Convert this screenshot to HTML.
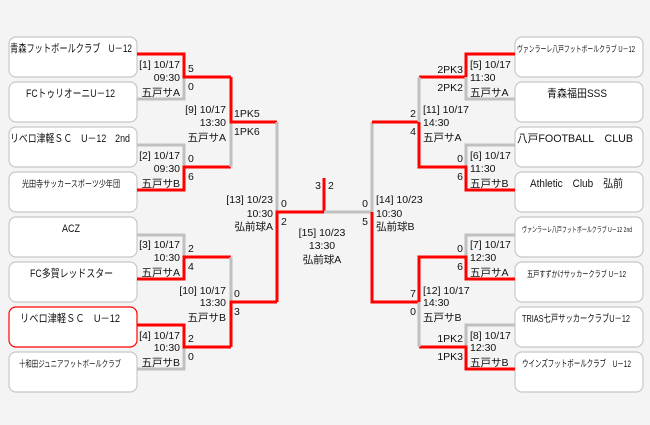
<!DOCTYPE html>
<html><head><meta charset="utf-8"><style>
body{margin:0;background:#f4f4f4;}
svg{display:block;font-family:"Liberation Sans","Noto Sans CJK JP",sans-serif;}
.b{fill:#fff;stroke:#c8c8c8;stroke-width:1.2}
.g{stroke:#c0c0c0;stroke-width:3;fill:none}
.r{stroke:#f00;stroke-width:3;fill:none}
text{font-size:10.5px;fill:#111}
.n{text-anchor:start}
.e{text-anchor:end}
</style></head><body>
<svg width="650" height="425" viewBox="0 0 650 425">
<rect width="650" height="425" fill="#f4f4f4"/>
<g>
<rect class="b" x="9" y="37" width="128" height="40" rx="7"/>
<rect class="b" x="9" y="82" width="128" height="40" rx="7"/>
<rect class="b" x="9" y="127" width="128" height="40" rx="7"/>
<rect class="b" x="9" y="172" width="128" height="40" rx="7"/>
<rect class="b" x="9" y="217" width="128" height="40" rx="7"/>
<rect class="b" x="9" y="262" width="128" height="40" rx="7"/>
<rect class="b" x="9" y="307" width="128" height="40" rx="7" style="stroke:#f00"/>
<rect class="b" x="9" y="352" width="128" height="40" rx="7"/>
<rect class="b" x="515" y="37" width="128" height="40" rx="7"/>
<rect class="b" x="515" y="82" width="128" height="40" rx="7"/>
<rect class="b" x="515" y="127" width="128" height="40" rx="7"/>
<rect class="b" x="515" y="172" width="128" height="40" rx="7"/>
<rect class="b" x="515" y="217" width="128" height="40" rx="7"/>
<rect class="b" x="515" y="262" width="128" height="40" rx="7"/>
<rect class="b" x="515" y="307" width="128" height="40" rx="7"/>
<rect class="b" x="515" y="352" width="128" height="40" rx="7"/>
</g>
<path class="g" d="M137 99H184V77"/>
<path class="r" d="M137 54H184V77H231"/>
<path class="g" d="M137 145H184V167"/>
<path class="r" d="M137 190H184V167H231"/>
<path class="g" d="M231 122V167"/>
<path class="r" d="M231 77V122H277"/>
<path class="g" d="M137 235H184V257"/>
<path class="r" d="M137 279H184V257H231"/>
<path class="g" d="M137 369H184V347"/>
<path class="r" d="M137 325H184V347H231"/>
<path class="g" d="M231 257V302"/>
<path class="r" d="M231 347V302H277"/>
<path class="g" d="M277 122V212"/>
<path class="r" d="M277 302V212H324V178"/>
<path class="g" d="M324 212H372V122"/>
<path class="r" d="M515 54H466V77H419"/>
<path class="g" d="M515 99H466V77"/>
<path class="g" d="M515 145H466V167"/>
<path class="r" d="M515 190H466V167H419V122H372"/>
<path class="g" d="M419 77V122"/>
<path class="g" d="M515 235H466V257"/>
<path class="r" d="M515 279H466V257H419V302H372V212"/>
<path class="g" d="M515 325H466V347"/>
<path class="r" d="M515 369H466V347H419"/>
<path class="g" d="M419 302V347"/>
<g class="n">
<text x="10" y="52" style="font-size:11px" textLength="122" lengthAdjust="spacingAndGlyphs">青森フットボールクラブ　U－12</text>
<text x="26" y="97" style="font-size:11px" textLength="89" lengthAdjust="spacingAndGlyphs">FCトゥリオーニU－12</text>
<text x="10" y="142" style="font-size:11px" textLength="120" lengthAdjust="spacingAndGlyphs">リベロ津軽ＳＣ　U－12　2nd</text>
<text x="22" y="187" style="font-size:9px" textLength="98" lengthAdjust="spacingAndGlyphs">光田寺サッカースポーツ少年団</text>
<text x="62" y="232" style="font-size:11px" textLength="18" lengthAdjust="spacingAndGlyphs">ACZ</text>
<text x="30" y="277" style="font-size:11px" textLength="83" lengthAdjust="spacingAndGlyphs">FC多賀レッドスター</text>
<text x="20" y="322" style="font-size:11px" textLength="100" lengthAdjust="spacingAndGlyphs">リベロ津軽ＳＣ　U－12</text>
<text x="19" y="367" style="font-size:9px" textLength="102" lengthAdjust="spacingAndGlyphs">十和田ジュニアフットボールクラブ</text>
<text x="517" y="52" style="font-size:8.5px" textLength="118" lengthAdjust="spacingAndGlyphs">ヴァンラーレ八戸フットボールクラブ U－12</text>
<text x="547" y="97" style="font-size:11px" textLength="60" lengthAdjust="spacingAndGlyphs">青森福田SSS</text>
<text x="517" y="142" style="font-size:11px" textLength="116" lengthAdjust="spacingAndGlyphs">八戸FOOTBALL　CLUB</text>
<text x="530" y="187" style="font-size:11px" textLength="93" lengthAdjust="spacingAndGlyphs">Athletic　Club　弘前</text>
<text x="522" y="232" style="font-size:7.5px" textLength="110" lengthAdjust="spacingAndGlyphs">ヴァンラーレ八戸フットボールクラブ U－12 2nd</text>
<text x="527" y="277" style="font-size:8.5px" textLength="99" lengthAdjust="spacingAndGlyphs">五戸すずかけサッカークラブ U－12</text>
<text x="522" y="322" style="font-size:10px" textLength="108" lengthAdjust="spacingAndGlyphs">TRIAS七戸サッカークラブU－12</text>
<text x="522" y="367" style="font-size:9.5px" textLength="109" lengthAdjust="spacingAndGlyphs">ウインズフットボールクラブ　U－12</text>
</g>
<g class="e">
<text x="180" y="68">[1] 10/17</text><text x="180" y="81">09:30</text><text x="180" y="96">五戸サA</text>
<text x="180" y="159">[2] 10/17</text><text x="180" y="172">09:30</text><text x="180" y="187">五戸サB</text>
<text x="180" y="248">[3] 10/17</text><text x="180" y="261">10:30</text><text x="180" y="276">五戸サA</text>
<text x="180" y="339">[4] 10/17</text><text x="180" y="351">10:30</text><text x="180" y="366">五戸サB</text>
<text x="226" y="113">[9] 10/17</text><text x="226" y="126">13:30</text><text x="226" y="141">五戸サA</text>
<text x="226" y="294">[10] 10/17</text><text x="226" y="306">13:30</text><text x="226" y="321">五戸サB</text>
<text x="273" y="203">[13] 10/23</text><text x="273" y="217">10:30</text><text x="273" y="230">弘前球A</text>
<text x="321" y="189">3</text>
<text x="463" y="73">2PK3</text><text x="463" y="91">2PK2</text>
<text x="463" y="162">0</text><text x="463" y="180">6</text>
<text x="463" y="252">0</text><text x="463" y="270">6</text>
<text x="463" y="342">1PK2</text><text x="463" y="360">1PK3</text>
<text x="416" y="117">2</text><text x="416" y="135">4</text>
<text x="416" y="297">7</text><text x="416" y="315">0</text>
<text x="368" y="207">0</text><text x="368" y="225">5</text>
</g>
<g>
<text x="188" y="72">5</text><text x="188" y="90">0</text>
<text x="188" y="162">0</text><text x="188" y="180">6</text>
<text x="188" y="252">2</text><text x="188" y="270">4</text>
<text x="188" y="342">2</text><text x="188" y="360">0</text>
<text x="234" y="117">1PK5</text><text x="234" y="135">1PK6</text>
<text x="234" y="297">0</text><text x="234" y="315">3</text>
<text x="281" y="207">0</text><text x="281" y="225">2</text>
<text x="328" y="189">2</text>
<text x="470" y="68">[5] 10/17</text><text x="470" y="81">11:30</text><text x="470" y="96">五戸サA</text>
<text x="470" y="159">[6] 10/17</text><text x="470" y="172">11:30</text><text x="470" y="187">五戸サB</text>
<text x="470" y="248">[7] 10/17</text><text x="470" y="261">12:30</text><text x="470" y="276">五戸サA</text>
<text x="470" y="339">[8] 10/17</text><text x="470" y="351">12:30</text><text x="470" y="366">五戸サB</text>
<text x="423" y="113">[11] 10/17</text><text x="423" y="126">14:30</text><text x="423" y="141">五戸サA</text>
<text x="423" y="294">[12] 10/17</text><text x="423" y="306">14:30</text><text x="423" y="321">五戸サB</text>
<text x="376" y="203">[14] 10/23</text><text x="376" y="217">10:30</text><text x="376" y="230">弘前球B</text>
</g>
<g style="text-anchor:middle">
<text x="322" y="236">[15] 10/23</text><text x="322" y="249">13:30</text><text x="322" y="263">弘前球A</text>
</g>
</svg>
</body></html>
